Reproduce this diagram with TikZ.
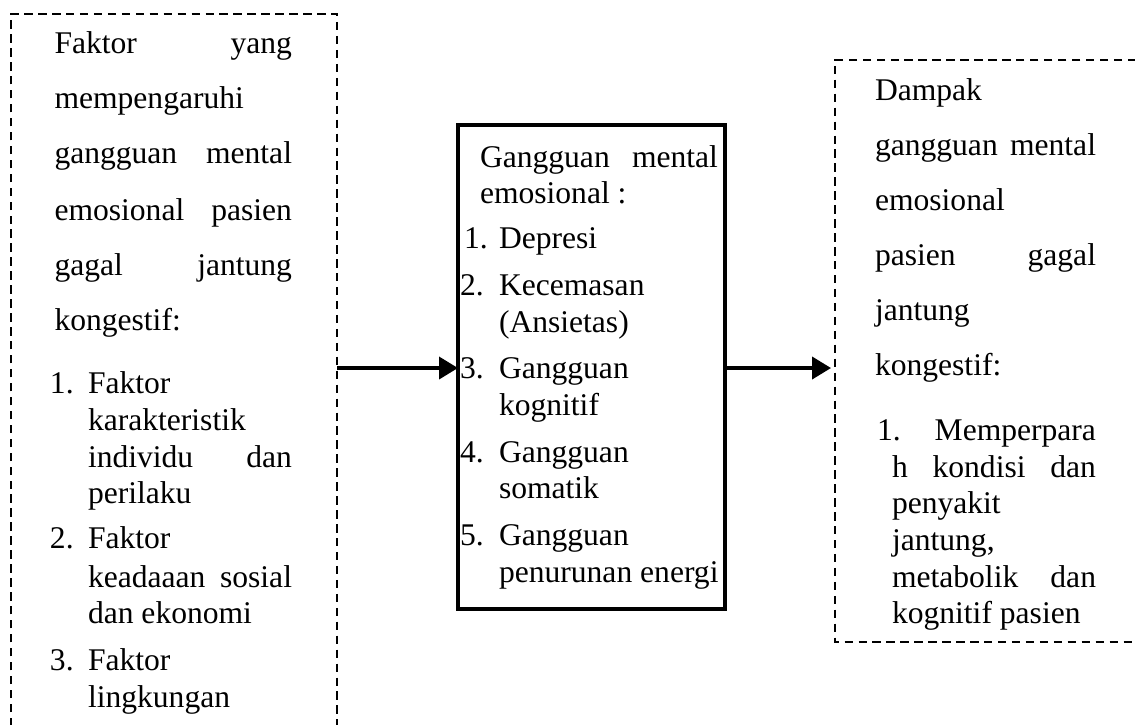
\documentclass[tikz,border=0pt]{standalone}
\usepackage{fontspec}
\setmainfont{Liberation Serif}
\usetikzlibrary{arrows.meta}
\newlength\pxu
\setlength\pxu{0.38pt}
\newcommand\jst[2]{\makebox[#1\pxu][s]{#2}}
\begin{document}
\begin{tikzpicture}[x=0.38pt,y=-0.38pt,
  txt/.style={anchor=base west, inner sep=0pt, outer sep=0pt, font=\fontsize{12}{14}\selectfont},
  dashbox/.style={line width=0.95pt, dash pattern=on 3.2pt off 2.1pt},
  solidbox/.style={draw, line width=1.35pt, minimum width=101.5pt, minimum height=183.9pt, inner sep=0pt, outer sep=0pt},
  arr/.style={line width=1.3pt, -{Triangle[length=7.2pt,width=8.4pt]}}]
\useasboundingbox (0,0) rectangle (1135,724);

% boxes
\draw[dashbox] (11,740) -- (11,14) -- (337,14) -- (337,740);
\draw[dashbox] (1150,60) -- (835,60) -- (835,642) -- (1150,642);
\node[solidbox] (mid) at (591.5,367) {};

% connectors
\coordinate (lout) at (337,368);
\coordinate (rin) at (831,368);
\draw[arr] (lout) -- (lout -| mid.west);
\draw[arr] (mid.east |- rin) -- (rin);

% left box text
\node[txt] (a1) at (54.5,53) {\jst{237.5}{Faktor\hfill yang}};
\node[txt] (a2) at (54.5,108) {mempengaruhi};
\node[txt] (a3) at (54.5,163) {\jst{237.5}{gangguan\hfill mental}};
\node[txt] (a4) at (54.5,220) {\jst{237.5}{emosional\hfill pasien}};
\node[txt] (a5) at (54.5,275) {\jst{237.5}{gagal\hfill jantung}};
\node[txt] (a6) at (54.5,330) {kongestif:};
\node[txt] (an1) at (50,393) {1.};
\node[txt] (an2) at (50,548) {2.};
\node[txt] (an3) at (50,670) {3.};
\node[txt] (b1) at (88,393) {Faktor};
\node[txt] (b2) at (88,430) {karakteristik};
\node[txt] (b3) at (88,467) {\jst{204}{individu\hfill dan}};
\node[txt] (b4) at (88,503) {perilaku};
\node[txt] (b5) at (88,548) {Faktor};
\node[txt] (b6) at (88,587) {\jst{204}{keadaaan\hfill sosial}};
\node[txt] (b7) at (88,623) {dan ekonomi};
\node[txt] (b8) at (88,670) {Faktor};
\node[txt] (b9) at (88,707) {lingkungan};

% centre box text
\node[txt] (c1) at (480,167) {\jst{238}{Gangguan\hfill mental}};
\node[txt] (c2) at (480,203) {emosional :};
\node[txt] (cn1) at (464,248) {1.};
\node[txt] (cn2) at (460,295) {2.};
\node[txt] (cn3) at (460,378) {3.};
\node[txt] (cn4) at (460,462) {4.};
\node[txt] (cn5) at (460,545) {5.};
\node[txt] (d1) at (499,248) {Depresi};
\node[txt] (d2) at (499,295) {Kecemasan};
\node[txt] (d3) at (499,332) {(Ansietas)};
\node[txt] (d4) at (499,378) {Gangguan};
\node[txt] (d5) at (499,415) {kognitif};
\node[txt] (d6) at (499,462) {Gangguan};
\node[txt] (d7) at (499,498) {somatik};
\node[txt] (d8) at (499,545) {Gangguan};
\node[txt] (d9) at (499,582) {penurunan energi};

% right box text
\node[txt] (e1) at (875,100) {Dampak};
\node[txt] (e2) at (875,155) {\jst{221}{gangguan\hfill mental}};
\node[txt] (e3) at (875,210) {emosional};
\node[txt] (e4) at (875,265) {\jst{221}{pasien\hfill gagal}};
\node[txt] (e5) at (875,320) {jantung};
\node[txt] (e6) at (875,375) {kongestif:};
\node[txt] (f1) at (877,440) {\jst{219}{1.\hfill Memperpara}};
\node[txt] (f2) at (892,477) {\jst{204}{h\hfill kondisi\hfill dan}};
\node[txt] (f3) at (892,513) {penyakit};
\node[txt] (f4) at (892,550) {jantung,};
\node[txt] (f5) at (892,587) {\jst{204}{metabolik\hfill dan}};
\node[txt] (f6) at (892,623) {kognitif pasien};
\end{tikzpicture}
\end{document}
